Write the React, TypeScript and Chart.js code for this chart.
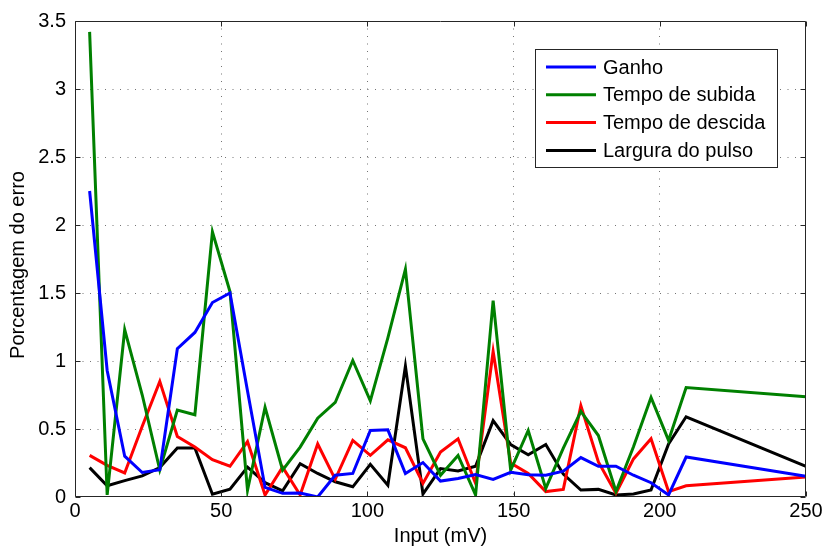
import { useEffect, useRef } from "react";
import { Chart, registerables } from "chart.js";

Chart.register(...registerables);

const FONT = "'Liberation Sans', Arial, Helvetica, sans-serif";

const xValues = [5, 11, 17, 23, 29, 35, 41, 47, 53, 59, 65, 71, 77, 83, 89, 95, 101, 107, 113, 119, 125, 131, 137, 143, 149, 155, 161, 167, 173, 179, 185, 191, 197, 203, 209, 250];

const ganho = [2.25, 0.93, 0.30, 0.18, 0.20, 1.09, 1.21, 1.43, 1.50, 0.78, 0.07, 0.027, 0.03, 0.0, 0.16, 0.173, 0.489, 0.494, 0.173, 0.253, 0.117, 0.136, 0.165, 0.129, 0.182, 0.163, 0.16, 0.19, 0.29, 0.226, 0.226, 0.16, 0.105, 0.015, 0.294, 0.153];

const tempoSubida = [3.42, 0.015, 1.23, 0.75, 0.2, 0.64, 0.605, 1.95, 1.51, 0.05, 0.66, 0.197, 0.367, 0.58, 0.695, 1.004, 0.707, 1.17, 1.675, 0.428, 0.16, 0.306, 0.015, 1.444, 0.197, 0.489, 0.063, 0.36, 0.63, 0.452, 0.04, 0.37, 0.732, 0.416, 0.805, 0.737];

const tempoDescida = [0.306, 0.233, 0.177, 0.52, 0.85, 0.445, 0.367, 0.275, 0.226, 0.408, 0.015, 0.22, 0.015, 0.39, 0.13, 0.416, 0.306, 0.42, 0.362, 0.1, 0.33, 0.428, 0.1, 1.07, 0.25, 0.173, 0.04, 0.056, 0.671, 0.258, 0.027, 0.28, 0.428, 0.04, 0.083, 0.148];

const larguraPulso = [0.216, 0.083, 0.12, 0.155, 0.216, 0.36, 0.36, 0.02, 0.058, 0.22, 0.105, 0.046, 0.245, 0.173, 0.112, 0.075, 0.24, 0.087, 0.963, 0.022, 0.209, 0.192, 0.226, 0.561, 0.386, 0.311, 0.386, 0.168, 0.051, 0.056, 0.015, 0.022, 0.051, 0.39, 0.59, 0.226];

const seriesNames = ["Ganho", "Tempo de subida", "Tempo de descida", "Largura do pulso"];
const seriesColors = ["#0000ff", "#008000", "#ff0000", "#000000"];
const xTitle = "Input (mV)";
const yTitle = "Porcentagem do erro";

const toPoints = (ys: number[]) => ys.map((y, i) => ({ x: xValues[i], y }));

const matlabPlugin = {
  id: "matlabDecor",
  afterDatasetsDraw(chart: any) {
    const { ctx, chartArea: a, scales } = chart;
    const xs = scales.x;
    const ys = scales.y;
    ctx.save();
    ctx.strokeStyle = "#262626";
    ctx.lineWidth = 1;
    const L = Math.round(a.left) + 0.5;
    const R = Math.round(a.right) - 0.5;
    const T = Math.round(a.top) + 0.5;
    const B = Math.round(a.bottom) - 0.5;
    ctx.beginPath();
    ctx.rect(L, T, R - L, B - T);
    ctx.stroke();
    const tl = 5;
    ctx.beginPath();
    xs.ticks.forEach((t: any) => {
      const px = Math.round(xs.getPixelForValue(t.value)) + 0.5;
      ctx.moveTo(px, B);
      ctx.lineTo(px, B - tl);
      ctx.moveTo(px, T);
      ctx.lineTo(px, T + tl);
    });
    ys.ticks.forEach((t: any) => {
      const py = Math.round(ys.getPixelForValue(t.value)) + 0.5;
      ctx.moveTo(L, py);
      ctx.lineTo(L + tl, py);
      ctx.moveTo(R, py);
      ctx.lineTo(R - tl, py);
    });
    ctx.stroke();

    // y title
    ctx.fillStyle = "#000";
    ctx.font = `20px ${FONT}`;
    ctx.textAlign = "center";
    ctx.textBaseline = "middle";
    ctx.translate(18, 265);
    ctx.rotate(-Math.PI / 2);
    ctx.fillText(yTitle, 0, 0);
    ctx.restore();

    // legend
    ctx.save();
    const bx = 535.5, by = 49.5, bw = 242, bh = 118;
    ctx.fillStyle = "#fff";
    ctx.fillRect(bx, by, bw, bh);
    ctx.strokeStyle = "#262626";
    ctx.lineWidth = 1;
    ctx.strokeRect(bx, by, bw, bh);
    ctx.font = `20px ${FONT}`;
    ctx.textAlign = "left";
    ctx.textBaseline = "middle";
    chart.data.datasets.forEach((ds: any, i: number) => {
      const yy = 67 + i * 27.8;
      ctx.strokeStyle = ds.borderColor;
      ctx.lineWidth = 3;
      ctx.beginPath();
      ctx.moveTo(546, yy);
      ctx.lineTo(596, yy);
      ctx.stroke();
      ctx.fillStyle = "#000";
      ctx.fillText(ds.label, 603, yy + 1);
    });
    ctx.restore();
  },
};

export default function App() {
  const ref = useRef<HTMLCanvasElement | null>(null);

  useEffect(() => {
    if (!ref.current) return;
    const allSeries = [ganho, tempoSubida, tempoDescida, larguraPulso];
    const chart = new Chart(ref.current, {
      type: "line",
      data: {
        datasets: allSeries.map((s, i) => ({
          label: seriesNames[i],
          data: toPoints(s),
          borderColor: seriesColors[i],
          backgroundColor: seriesColors[i],
          borderWidth: 3,
          pointRadius: 0,
          pointHoverRadius: 0,
          tension: 0,
          fill: false,
        })),
      },
      options: {
        responsive: false,
        animation: false,
        devicePixelRatio: 1,
        layout: { padding: { top: 17, right: 19, left: 0, bottom: 0 } },
        plugins: {
          legend: { display: false },
          tooltip: { enabled: false },
          title: { display: false },
        },
        scales: {
          x: {
            type: "linear",
            min: 0,
            max: 250,
            afterFit: (s: any) => {
              s.height = 51;
            },
            ticks: {
              stepSize: 50,
              color: "#000",
              padding: 2,
              font: { family: FONT, size: 20 },
              callback: (v: any) => String(v),
              maxRotation: 0,
            },
            grid: {
              drawTicks: false,
              color: (c: any) =>
                c.tick && (c.tick.value === 0 || c.tick.value === 250) ? "rgba(0,0,0,0)" : "rgba(70,70,70,0.75)",
              lineWidth: 1,
            },
            border: { display: false, dash: [1, 6.5] },
            title: {
              display: true,
              text: xTitle,
              color: "#000",
              font: { family: FONT, size: 20 },
              padding: { top: 0, bottom: 0 },
            },
          },
          y: {
            type: "linear",
            min: 0,
            max: 3.5,
            afterFit: (s: any) => {
              s.width = 75;
            },
            ticks: {
              stepSize: 0.5,
              color: "#000",
              padding: 9,
              font: { family: FONT, size: 20 },
              callback: (v: any) => String(v),
            },
            grid: {
              drawTicks: false,
              color: (c: any) =>
                c.tick && (c.tick.value === 0 || c.tick.value === 3.5) ? "rgba(0,0,0,0)" : "rgba(70,70,70,0.75)",
              lineWidth: 1,
            },
            border: { display: false, dash: [1, 6.5] },
            title: { display: false },
          },
        },
      },
      plugins: [matlabPlugin],
    });
    return () => chart.destroy();
  }, []);

  return (
    <div style={{ position: "absolute", left: 0, top: 0, width: 825, height: 548, background: "#fff" }}>
      <canvas ref={ref} width={825} height={548} />
    </div>
  );
}
